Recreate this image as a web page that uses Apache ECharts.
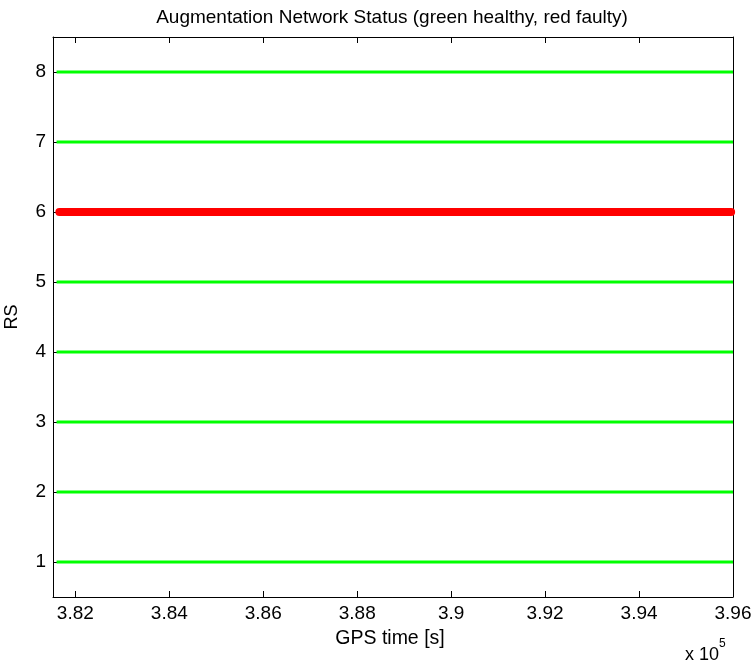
<!DOCTYPE html>
<html>
<head>
<meta charset="utf-8">
<script src="https://cdn.jsdelivr.net/npm/echarts@6/dist/echarts.min.js"></script>
<style>html,body{margin:0;padding:0;background:#fff;}#c{width:752px;height:662px;}</style>
</head>
<body>
<div id="c"></div>
<script>
// ---- data ----
const healthyRS = [1, 2, 3, 4, 5, 7, 8];
const healthyTime = [381600, 396000];
const faultyRS = [6];
const faultyTime = [381660, 395960];
const xTicks = [382000, 384000, 386000, 388000, 390000, 392000, 394000, 396000];
const yTicks = [1, 2, 3, 4, 5, 6, 7, 8];
const xRange = [381524, 396000];
const yRange = [0.5, 8.5];

const FONT = 'Liberation Sans, Arial, Helvetica, sans-serif';
const chart = echarts.init(document.getElementById('c'));

const series = [];
healthyRS.forEach(rs => {
  series.push({
    type: 'line', name: 'RS' + rs, showSymbol: false, silent: true,
    data: healthyTime.map(t => [t, rs]),
    lineStyle: {color: '#00ff00', width: 3, cap: 'butt'},
    animation: false
  });
});
faultyRS.forEach(rs => {
  series.push({
    type: 'line', name: 'RS' + rs + ' faulty', showSymbol: false, silent: true,
    data: faultyTime.map(t => [t, rs]),
    lineStyle: {color: '#ff0000', width: 8, cap: 'round'},
    animation: false
  });
});

const xBase = {
  type: 'value', min: xRange[0], max: xRange[1],
  axisLine: {show: true, lineStyle: {color: '#000', width: 1}},
  axisTick: {show: true, inside: true, length: 6, customValues: xTicks, lineStyle: {color: '#000'}},
  splitLine: {show: false}
};
const yBase = {
  type: 'value', min: yRange[0], max: yRange[1],
  axisLine: {show: true, lineStyle: {color: '#000', width: 1}},
  axisTick: {show: true, inside: true, length: 6, customValues: yTicks, lineStyle: {color: '#000'}},
  splitLine: {show: false}
};

chart.setOption({
  animation: false,
  backgroundColor: '#fff',
  title: {
    text: 'Augmentation Network Status (green healthy, red faulty)',
    left: 387, top: 3, textAlign: 'center',
    textStyle: {fontFamily: FONT, fontSize: 19, fontWeight: 'normal', color: '#000'}
  },
  grid: {left: 53, right: 19, top: 37, bottom: 65, containLabel: false, outerBoundsMode: 'none'},
  xAxis: [
    Object.assign({}, xBase, {
      position: 'bottom',
      name: 'GPS time [s]', nameLocation: 'middle', nameGap: 32,
      nameTextStyle: {fontFamily: FONT, fontSize: 19.5, color: '#000', padding: [0, 6, 0, 0]},
      axisLabel: {show: true, customValues: xTicks, margin: 7, fontFamily: FONT, fontSize: 19, color: '#000',
        formatter: v => String(+(v / 1e5).toFixed(2))}
    }),
    Object.assign({}, xBase, {position: 'top', axisLabel: {show: false}})
  ],
  yAxis: [
    Object.assign({}, yBase, {
      position: 'left',
      name: 'RS', nameLocation: 'middle', nameGap: 32,
      nameTextStyle: {fontFamily: FONT, fontSize: 18, color: '#000'},
      axisLabel: {show: true, customValues: yTicks, margin: 7, fontFamily: FONT, fontSize: 19, color: '#000'}
    }),
    Object.assign({}, yBase, {position: 'right', axisLabel: {show: false}})
  ],
  graphic: [{
    type: 'text', left: 685, top: 638,
    style: {
      text: '{a|x 10}{b|5}',
      rich: {
        a: {fontFamily: FONT, fontSize: 18, fill: '#000', verticalAlign: 'bottom', padding: [8, 0, 0, 0]},
        b: {fontFamily: FONT, fontSize: 12, fill: '#000', verticalAlign: 'top'}
      }
    }
  }],
  series: series
});
</script>
</body>
</html>
